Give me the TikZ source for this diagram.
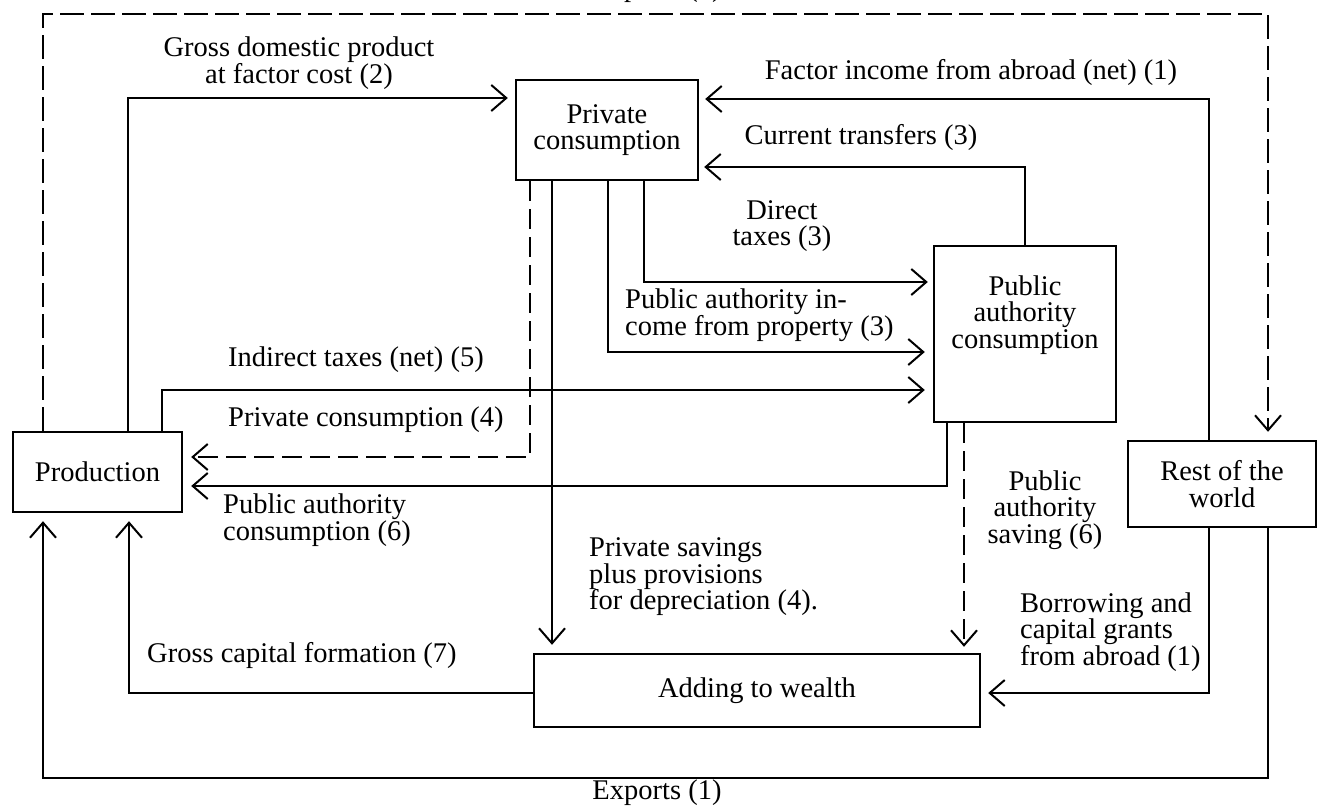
\documentclass[tikz,border=0pt]{standalone}
\usepackage{fontspec}
\setmainfont{Liberation Serif}
\usetikzlibrary{arrows.meta}
\tikzset{
  box/.style={draw, line width=2.4pt, rectangle, inner sep=0pt, align=center},
  flow/.style={line width=2pt, -{Straight Barb[length=15pt,width=26pt]}},
  dflow/.style={flow, dash pattern=on 20pt off 8pt},
  frameflow/.style={flow, dash pattern=on 24pt off 7pt},
  lbl/.style={inner sep=0pt, align=left},
  clbl/.style={inner sep=0pt, align=center},
}
\begin{document}
\begin{tikzpicture}[x=1pt,y=-1pt, font=\fontsize{28.5pt}{26.5pt}\selectfont]
\useasboundingbox (0,0) rectangle (1323,808);
\clip (0,0) rectangle (1323,808);

% boxes
\node[box, minimum width=169pt, minimum height=80pt] (prod) at (97.5,472) {Production};
\node[box, minimum width=182pt, minimum height=100pt] (pc) at (607,130) {Private\\consumption};
\node[box, minimum width=182pt, minimum height=176pt] (pa) at (1025,334) {};
\node[clbl] (patext) at (1025,315) {Public\\authority\\consumption};
\node[box, minimum width=188pt, minimum height=86pt] (row) at (1222,484) {Rest of the\\world};
\node[box, minimum width=446pt, minimum height=73pt] (aw) at (757,690.5) {Adding to wealth};

% bend coordinates
\coordinate (c1) at (128,98);
\coordinate (c2) at (1209,99);
\coordinate (c3) at (1025,167);
\coordinate (c4) at (644,282);
\coordinate (c5) at (608,352);
\coordinate (c6) at (162,390);
\coordinate (c7) at (530,457);
\coordinate (c8) at (947,486);
\coordinate (c9) at (552,600);
\coordinate (c10) at (964,600);
\coordinate (c11) at (1209,693);
\coordinate (c12) at (129,693);
\coordinate (c13a) at (1268,778);
\coordinate (c13b) at (43,778);
\coordinate (c14a) at (43,14);
\coordinate (c14b) at (1268,14);

% connectors
\draw[flow, shorten >=7pt] (prod.north -| c1) |- (pc.west |- c1);
\draw[flow, shorten >=6pt] (row.north -| c2) |- (pc.east |- c2);
\draw[flow, shorten >=5pt] (pa.north -| c3) |- (pc.east |- c3);
\draw[flow, shorten >=5pt] (pc.south -| c4) |- (pa.west |- c4);
\draw[flow, shorten >=8pt] (pc.south -| c5) |- (pa.west |- c5);
\draw[flow, shorten >=8pt] (prod.north -| c6) |- (pa.west |- c6);
\draw[dflow, shorten >=8pt] (pc.south -| c7) |- (prod.east |- c7);
\draw[flow, shorten >=8pt] (pa.south -| c8) |- (prod.east |- c8);
\draw[flow, shorten >=8pt] (pc.south -| c9) -- (aw.north -| c9);
\draw[dflow, shorten >=6pt] (pa.south -| c10) -- (aw.north -| c10);
\draw[flow, shorten >=7pt] (row.south -| c11) |- (aw.east |- c11);
\draw[flow, shorten >=8pt] (aw.west |- c12) -| (prod.south -| c12);
\draw[flow, shorten >=8pt] (row.south -| c13a) -- (c13a) -- (c13b) -- (prod.south -| c13b);
\draw[frameflow, shorten >=8pt] (prod.north -| c14a) -- (c14a) -- (c14b) -- (row.north -| c14b);

% labels
\node[clbl] (l1) at (299,63) {Gross domestic product\\at factor cost (2)};
\node[clbl] (l2) at (971,73) {Factor income from abroad (net) (1)};
\node[clbl] (l3) at (861,137) {Current transfers (3)};
\node[clbl] (l4) at (782,226) {Direct\\taxes (3)};
\node[lbl, anchor=west] (l5) at (625,315) {Public authority in-\\come from property (3)};
\node[lbl, anchor=west] (l6) at (228,360) {Indirect taxes (net) (5)};
\node[lbl, anchor=west] (l7) at (228,420) {Private consumption (4)};
\node[lbl, anchor=west] (l8) at (223,520) {Public authority\\consumption (6)};
\node[lbl, anchor=west] (l9) at (589,577) {Private savings\\plus provisions\\for depreciation (4).};
\node[clbl] (l10) at (1045,510) {Public\\authority\\saving (6)};
\node[lbl, anchor=west] (l11) at (1020,632) {Borrowing and\\capital grants\\from abroad (1)};
\node[lbl, anchor=west] (l12) at (147,655) {Gross capital formation (7)};
\node[clbl] (l13) at (657,793) {Exports (1)};
\node[inner sep=0pt, anchor=base] (l14) at (657,-3) {Imports (1)};
\end{tikzpicture}
\end{document}
